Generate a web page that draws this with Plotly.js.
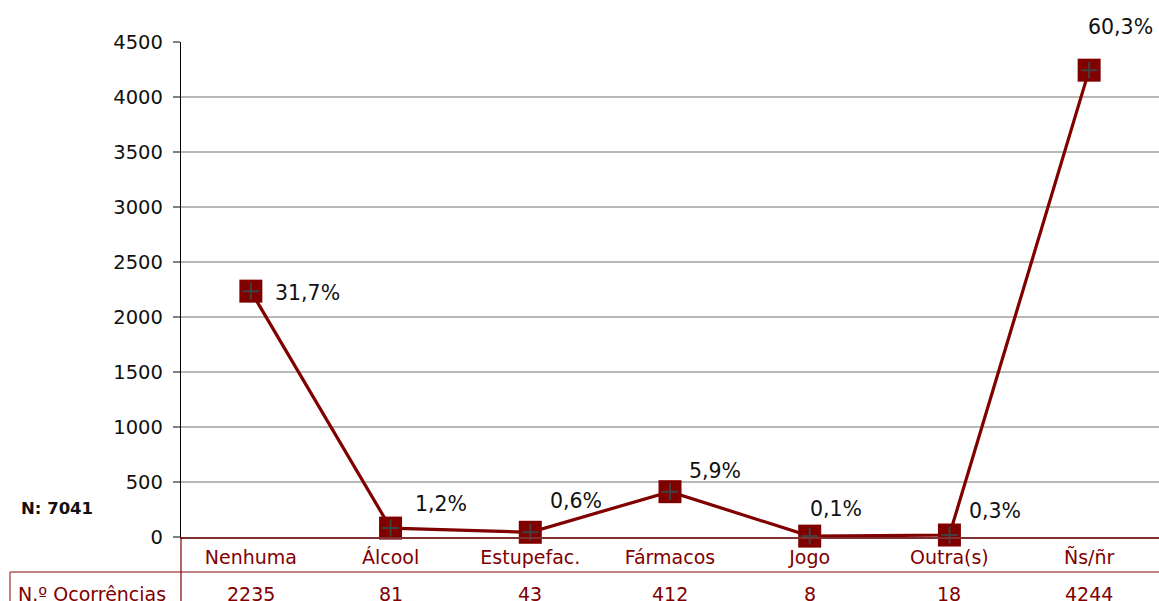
<!DOCTYPE html>
<html>
<head>
<meta charset="utf-8">
<script src="https://cdn.plot.ly/plotly-3.0.1.min.js"></script>
<style>html,body{margin:0;padding:0;background:#fff;overflow:hidden}#chart{width:1159px;height:601px}</style>
</head>
<body>
<div id="chart"></div>
<script>
const categories = ['Nenhuma', 'Álcool', 'Estupefac.', 'Fármacos', 'Jogo', 'Outra(s)', 'Ñs/ñr'];
const occurrences = [2235, 81, 43, 412, 8, 18, 4244];
const percentLabels = ['31,7%', '1,2%', '0,6%', '5,9%', '0,1%', '0,3%', '60,3%'];
const yTicks = [0, 500, 1000, 1500, 2000, 2500, 3000, 3500, 4000, 4500];
const rowTitle = 'N.º Ocorrências';
const totalLabel = 'N: 7041';

// label placement (pixel offsets from each point, as auto-placed in the original)
const labelPlacement = [[22, -2], [22, 24], [18, 31], [17, 21], [-2, 27], [18, 24], [-3, 43]];

const FONT = 'DejaVu Sans, Verdana, sans-serif';
const RED = '#800000';

const lineTrace = {
  x: categories, y: occurrences, type: 'scatter', mode: 'lines+markers',
  line: {color: RED, width: 3.2},
  marker: {symbol: 'square', size: 23, color: RED, line: {color: RED, width: 0}},
  cliponaxis: false, hoverinfo: 'x+y', showlegend: false
};
const crossTrace = {
  x: categories, y: occurrences, type: 'scatter', mode: 'markers',
  marker: {symbol: 'cross-thin', size: 12, color: '#404040', line: {color: '#404040', width: 2}},
  cliponaxis: false, hoverinfo: 'skip', showlegend: false
};

const L = 181, W = 978, T = 42, H = 495;
const px = v => (v - L) / W;
const py = v => (T + H - v) / H;

const annotations = [];
categories.forEach((c, i) => {
  annotations.push({
    x: c, xref: 'x', y: occurrences[i], yref: 'y',
    xanchor: 'left', yanchor: 'middle',
    xshift: labelPlacement[i][0], yshift: labelPlacement[i][1],
    text: percentLabels[i], showarrow: false,
    font: {family: FONT, size: 20.5, color: '#111'}
  });
  annotations.push({
    x: c, xref: 'x', y: 0, yref: 'paper', yshift: -57, yanchor: 'middle',
    text: String(occurrences[i]), showarrow: false,
    font: {family: FONT, size: 19, color: RED}
  });
});
annotations.push({
  x: px(16), xref: 'paper', xanchor: 'left', y: 0, yref: 'paper', yshift: -57, yanchor: 'middle',
  text: rowTitle, showarrow: false, font: {family: FONT, size: 19, color: RED}
});
annotations.push({
  x: px(19), xref: 'paper', xanchor: 'left', y: py(508), yref: 'paper', yanchor: 'middle',
  text: '<b>' + totalLabel + '</b>', showarrow: false,
  font: {family: FONT, size: 16.5, color: '#111'}
});

const shapes = [
  {type: 'line', xref: 'paper', yref: 'paper', x0: px(10), x1: 1, y0: py(572), y1: py(572), line: {color: '#b05a5a', width: 1.5}},
  {type: 'line', xref: 'paper', yref: 'paper', x0: px(10), x1: px(10), y0: py(572), y1: py(640), line: {color: '#b05a5a', width: 1.5}},
  {type: 'line', xref: 'paper', yref: 'paper', x0: 0, x1: 0, y0: 0, y1: py(640), line: {color: RED, width: 1.2}}
];

const layout = {
  width: 1159, height: 601,
  margin: {l: L, r: 0, t: T, b: 601 - T - H, pad: 0},
  paper_bgcolor: '#fff', plot_bgcolor: '#fff',
  font: {family: FONT, size: 19, color: '#111'},
  xaxis: {
    type: 'category', categoryarray: categories, range: [-0.5, 6.5],
    showgrid: false, showline: true, linecolor: '#7f3030', linewidth: 2,
    ticks: '', tickfont: {family: FONT, size: 19, color: RED}, ticklabelstandoff: 2,
    zeroline: false, fixedrange: true
  },
  yaxis: {
    range: [0, 4500], tickvals: yTicks, ticktext: yTicks.map(String),
    showgrid: true, gridcolor: '#b8b8b8', gridwidth: 1.5,
    showline: true, linecolor: '#000', linewidth: 1.2,
    ticks: 'outside', ticklen: 7, tickcolor: '#808080', tickwidth: 2,
    tickfont: {family: FONT, size: 19.5, color: '#111'}, ticklabelstandoff: 6,
    zeroline: false, fixedrange: true
  },
  annotations: annotations,
  shapes: shapes,
  showlegend: false
};

Plotly.newPlot('chart', [lineTrace, crossTrace], layout, {displayModeBar: false, staticPlot: true});
</script>
</body>
</html>
